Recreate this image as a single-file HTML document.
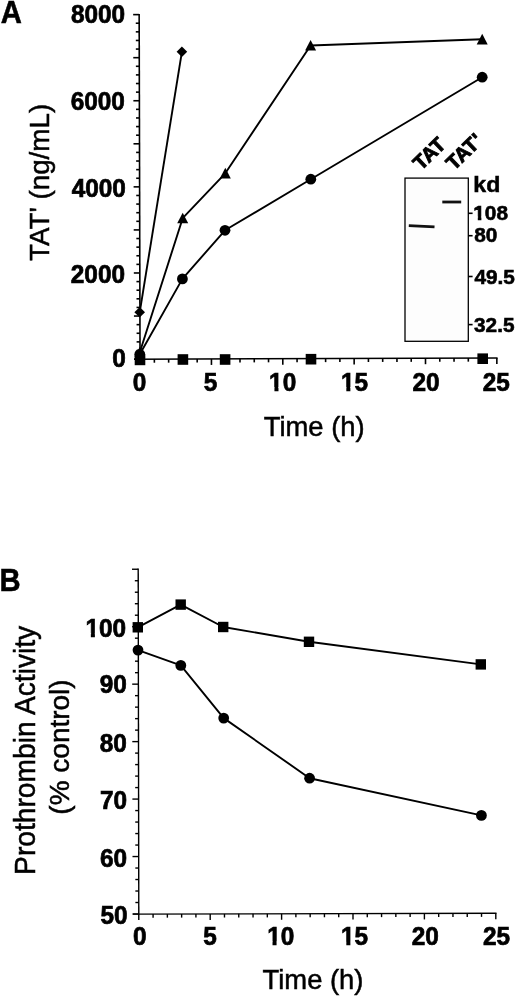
<!DOCTYPE html>
<html><head><meta charset="utf-8"><style>
html,body{margin:0;padding:0;background:#fff;}
svg{display:block;filter:grayscale(1);}
text{font-family:'Liberation Sans', sans-serif;fill:#000;}
.pl{font-size:30px;font-weight:bold;stroke:#000;stroke-width:0.5px;}
.tl{font-size:24.5px;font-weight:bold;stroke:#000;stroke-width:0.7px;}
.at{font-size:27.5px;stroke:#000;stroke-width:0.5px;}
.kd{font-size:22px;font-weight:bold;stroke:#000;stroke-width:0.5px;}
.gl{font-size:20.5px;font-weight:bold;stroke:#000;stroke-width:0.6px;}
.gt{font-size:20px;font-weight:bold;stroke:#000;stroke-width:1.0px;}
.axA line{stroke:#000;stroke-width:1.6;}
.axB line{stroke:#000;stroke-width:1.4;}
.dl{stroke:#000;stroke-width:1.9;fill:none;stroke-linejoin:round;}
.mk{fill:#000;stroke:none;}
</style></head><body>
<svg width="520" height="999" viewBox="0 0 520 999">
<g transform="translate(98.06,22.88) scale(0.9957,1.0325)"><text class="tl" text-anchor="middle">8000</text>
</g>
<g transform="translate(97.80,109.87) scale(0.9957,1.0325)"><text class="tl" text-anchor="middle">6000</text>
</g>
<g transform="translate(98.78,196.82) scale(0.9957,1.0325)"><text class="tl" text-anchor="middle">4000</text>
</g>
<g transform="translate(97.91,282.88) scale(0.9957,1.0325)"><text class="tl" text-anchor="middle">2000</text>
</g>
<g transform="translate(118.92,367.07) scale(0.9957,1.0325)"><text class="tl" text-anchor="middle">0</text>
</g>
<g transform="translate(139.53,391.04) scale(0.9957,1.0325)"><text class="tl" text-anchor="middle">0</text>
</g>
<g transform="translate(210.42,391.04) scale(0.9957,1.0325)"><text class="tl" text-anchor="middle">5</text>
</g>
<g transform="translate(282.66,390.58) scale(0.9957,1.0325)"><text class="tl" text-anchor="middle">10</text>
<rect x="-13.38" y="-3.40" width="5.12" height="4.90" fill="#fff"/>
<rect x="-4.19" y="-3.40" width="4.80" height="4.90" fill="#fff"/>
</g>
<g transform="translate(354.55,390.58) scale(0.9957,1.0325)"><text class="tl" text-anchor="middle">15</text>
<rect x="-13.38" y="-3.40" width="5.12" height="4.90" fill="#fff"/>
<rect x="-4.19" y="-3.40" width="4.80" height="4.90" fill="#fff"/>
</g>
<g transform="translate(426.08,390.66) scale(0.9957,1.0325)"><text class="tl" text-anchor="middle">20</text>
</g>
<g transform="translate(496.19,390.66) scale(0.9957,1.0325)"><text class="tl" text-anchor="middle">25</text>
</g>
<g transform="translate(105.85,636.60) scale(0.9957,1.0325)"><text class="tl" text-anchor="middle">100</text>
<rect x="-20.20" y="-3.40" width="5.12" height="4.90" fill="#fff"/>
<rect x="-11.00" y="-3.40" width="4.80" height="4.90" fill="#fff"/>
</g>
<g transform="translate(113.28,693.22) scale(0.9957,1.0325)"><text class="tl" text-anchor="middle">90</text>
</g>
<g transform="translate(113.28,751.70) scale(0.9957,1.0325)"><text class="tl" text-anchor="middle">80</text>
</g>
<g transform="translate(113.50,809.39) scale(0.9957,1.0325)"><text class="tl" text-anchor="middle">70</text>
</g>
<g transform="translate(113.50,866.66) scale(0.9957,1.0325)"><text class="tl" text-anchor="middle">60</text>
</g>
<g transform="translate(113.95,923.83) scale(0.9957,1.0325)"><text class="tl" text-anchor="middle">50</text>
</g>
<g transform="translate(139.80,945.26) scale(0.9957,1.0325)"><text class="tl" text-anchor="middle">0</text>
</g>
<g transform="translate(209.92,945.12) scale(0.9957,1.0325)"><text class="tl" text-anchor="middle">5</text>
</g>
<g transform="translate(280.74,944.98) scale(0.9957,1.0325)"><text class="tl" text-anchor="middle">10</text>
<rect x="-13.38" y="-3.40" width="5.12" height="4.90" fill="#fff"/>
<rect x="-4.19" y="-3.40" width="4.80" height="4.90" fill="#fff"/>
</g>
<g transform="translate(354.55,945.41) scale(0.9957,1.0325)"><text class="tl" text-anchor="middle">15</text>
<rect x="-13.38" y="-3.40" width="5.12" height="4.90" fill="#fff"/>
<rect x="-4.19" y="-3.40" width="4.80" height="4.90" fill="#fff"/>
</g>
<g transform="translate(425.19,944.51) scale(0.9957,1.0325)"><text class="tl" text-anchor="middle">20</text>
</g>
<g transform="translate(496.48,945.00) scale(0.9957,1.0325)"><text class="tl" text-anchor="middle">25</text>
</g>
<g transform="translate(486.81,192.39) scale(1.0534,1.0000)"><text class="kd" text-anchor="middle">kd</text>
</g>
<g transform="translate(490.66,219.59) scale(1.0147,1.0139)"><text class="gl" text-anchor="middle">108</text>
<rect x="-17.11" y="-2.99" width="4.43" height="4.49" fill="#fff"/>
<rect x="-9.14" y="-2.99" width="4.17" height="4.49" fill="#fff"/>
</g>
<g transform="translate(485.72,241.74) scale(1.0147,1.0139)"><text class="gl" text-anchor="middle">80</text>
</g>
<g transform="translate(494.69,283.86) scale(1.0147,1.0139)"><text class="gl" text-anchor="middle">49.5</text>
</g>
<g transform="translate(494.24,332.27) scale(1.0147,1.0139)"><text class="gl" text-anchor="middle">32.5</text>
</g>
<g transform="translate(11.41,22.53) scale(0.9751,1.0641)"><text class="pl" text-anchor="middle">A</text>
</g>
<g transform="translate(10.11,591.11) scale(0.9751,1.0641)"><text class="pl" text-anchor="middle">B</text>
</g>
<g class="axA">
<line x1="139.15" y1="13.92" x2="140.06" y2="365.10"/>
<line x1="134.04" y1="359.10" x2="140.04" y2="359.10"/>
<line x1="136.62" y1="350.49" x2="140.02" y2="350.49"/>
<line x1="136.60" y1="341.88" x2="140.00" y2="341.88"/>
<line x1="136.58" y1="333.26" x2="139.98" y2="333.26"/>
<line x1="136.56" y1="324.65" x2="139.96" y2="324.65"/>
<line x1="133.93" y1="316.04" x2="139.93" y2="316.04"/>
<line x1="136.51" y1="307.43" x2="139.91" y2="307.43"/>
<line x1="136.49" y1="298.82" x2="139.89" y2="298.82"/>
<line x1="136.47" y1="290.20" x2="139.87" y2="290.20"/>
<line x1="136.44" y1="281.59" x2="139.84" y2="281.59"/>
<line x1="133.82" y1="272.98" x2="139.82" y2="272.98"/>
<line x1="136.40" y1="264.37" x2="139.80" y2="264.37"/>
<line x1="136.38" y1="255.76" x2="139.78" y2="255.76"/>
<line x1="136.35" y1="247.14" x2="139.75" y2="247.14"/>
<line x1="136.33" y1="238.53" x2="139.73" y2="238.53"/>
<line x1="133.71" y1="229.92" x2="139.71" y2="229.92"/>
<line x1="136.29" y1="221.31" x2="139.69" y2="221.31"/>
<line x1="136.26" y1="212.70" x2="139.66" y2="212.70"/>
<line x1="136.24" y1="204.08" x2="139.64" y2="204.08"/>
<line x1="136.22" y1="195.47" x2="139.62" y2="195.47"/>
<line x1="133.60" y1="186.86" x2="139.60" y2="186.86"/>
<line x1="136.17" y1="178.25" x2="139.57" y2="178.25"/>
<line x1="136.15" y1="169.64" x2="139.55" y2="169.64"/>
<line x1="136.13" y1="161.02" x2="139.53" y2="161.02"/>
<line x1="136.11" y1="152.41" x2="139.51" y2="152.41"/>
<line x1="133.48" y1="143.80" x2="139.48" y2="143.80"/>
<line x1="136.06" y1="135.19" x2="139.46" y2="135.19"/>
<line x1="136.04" y1="126.58" x2="139.44" y2="126.58"/>
<line x1="136.02" y1="117.96" x2="139.42" y2="117.96"/>
<line x1="136.00" y1="109.35" x2="139.40" y2="109.35"/>
<line x1="133.37" y1="100.74" x2="139.37" y2="100.74"/>
<line x1="135.95" y1="92.13" x2="139.35" y2="92.13"/>
<line x1="135.93" y1="83.52" x2="139.33" y2="83.52"/>
<line x1="135.91" y1="74.90" x2="139.31" y2="74.90"/>
<line x1="135.88" y1="66.29" x2="139.28" y2="66.29"/>
<line x1="133.26" y1="57.68" x2="139.26" y2="57.68"/>
<line x1="135.84" y1="49.07" x2="139.24" y2="49.07"/>
<line x1="135.82" y1="40.46" x2="139.22" y2="40.46"/>
<line x1="135.79" y1="31.84" x2="139.19" y2="31.84"/>
<line x1="135.77" y1="23.23" x2="139.17" y2="23.23"/>
<line x1="133.15" y1="14.62" x2="139.15" y2="14.62"/>
<line x1="134.04" y1="359.19" x2="497.55" y2="357.95"/>
<line x1="154.37" y1="359.12" x2="154.37" y2="362.72"/>
<line x1="168.64" y1="359.07" x2="168.64" y2="362.67"/>
<line x1="182.91" y1="359.02" x2="182.91" y2="362.62"/>
<line x1="197.18" y1="358.97" x2="197.18" y2="362.57"/>
<line x1="211.45" y1="358.93" x2="211.45" y2="364.93"/>
<line x1="225.72" y1="358.88" x2="225.72" y2="362.48"/>
<line x1="239.99" y1="358.83" x2="239.99" y2="362.43"/>
<line x1="254.26" y1="358.78" x2="254.26" y2="362.38"/>
<line x1="268.53" y1="358.73" x2="268.53" y2="362.33"/>
<line x1="282.80" y1="358.68" x2="282.80" y2="364.68"/>
<line x1="297.07" y1="358.63" x2="297.07" y2="362.23"/>
<line x1="311.34" y1="358.59" x2="311.34" y2="362.19"/>
<line x1="325.61" y1="358.54" x2="325.61" y2="362.14"/>
<line x1="339.88" y1="358.49" x2="339.88" y2="362.09"/>
<line x1="354.15" y1="358.44" x2="354.15" y2="364.44"/>
<line x1="368.42" y1="358.39" x2="368.42" y2="361.99"/>
<line x1="382.69" y1="358.34" x2="382.69" y2="361.94"/>
<line x1="396.96" y1="358.29" x2="396.96" y2="361.89"/>
<line x1="411.23" y1="358.25" x2="411.23" y2="361.85"/>
<line x1="425.50" y1="358.20" x2="425.50" y2="364.20"/>
<line x1="439.77" y1="358.15" x2="439.77" y2="361.75"/>
<line x1="454.04" y1="358.10" x2="454.04" y2="361.70"/>
<line x1="468.31" y1="358.05" x2="468.31" y2="361.65"/>
<line x1="482.58" y1="358.00" x2="482.58" y2="361.60"/>
<line x1="496.85" y1="357.95" x2="496.85" y2="363.95"/>
</g>
<text x="314.2" y="435.8" class="at" text-anchor="middle" style="font-size:27.4px">Time (h)</text>
<text transform="translate(49.2,182.35) rotate(-90) scale(1,1.02)" class="at" text-anchor="middle" style="font-size:27.8px">TAT' (ng/mL)</text>
<polyline points="139.70,312.30 181.90,51.80" class="dl"/>
<polyline points="139.80,352.20 182.70,218.20 225.30,173.30 310.60,45.50 482.20,39.30" class="dl"/>
<polyline points="139.80,354.30 182.40,278.90 225.00,230.30 310.80,179.20 482.20,77.20" class="dl"/>
<rect x="134.70" y="354.60" width="10.6" height="10.6" class="mk"/>
<rect x="177.60" y="354.20" width="10.6" height="10.6" class="mk"/>
<rect x="219.80" y="354.20" width="10.6" height="10.6" class="mk"/>
<rect x="305.70" y="353.90" width="10.6" height="10.6" class="mk"/>
<rect x="477.40" y="353.40" width="10.6" height="10.6" class="mk"/>
<circle cx="139.80" cy="354.30" r="5.4" class="mk"/>
<circle cx="182.40" cy="278.90" r="5.4" class="mk"/>
<circle cx="225.00" cy="230.30" r="5.4" class="mk"/>
<circle cx="310.80" cy="179.20" r="5.4" class="mk"/>
<circle cx="482.20" cy="77.20" r="5.4" class="mk"/>
<path d="M139.80,346.70 L145.30,357.30 L134.30,357.30 Z" class="mk"/>
<path d="M182.70,212.70 L188.20,223.30 L177.20,223.30 Z" class="mk"/>
<path d="M225.30,167.80 L230.80,178.40 L219.80,178.40 Z" class="mk"/>
<path d="M310.60,40.00 L316.10,50.60 L305.10,50.60 Z" class="mk"/>
<path d="M482.20,33.80 L487.70,44.40 L476.70,44.40 Z" class="mk"/>
<path d="M139.70,307.00 L145.00,312.30 L139.70,317.60 L134.40,312.30 Z" class="mk"/>
<path d="M181.90,46.50 L187.20,51.80 L181.90,57.10 L176.60,51.80 Z" class="mk"/>
<rect x="405.0" y="178.1" width="63.3" height="163.2" fill="#fdfdfd" stroke="#000" stroke-width="1.3"/>
<path d="M408.8,225.6 L434.5,226.9" stroke="#111" stroke-width="2.6" fill="none"/>
<path d="M442.3,202 L461.2,202" stroke="#111" stroke-width="2.8" fill="none"/>
<g class="axA">
<line x1="468" y1="213.3" x2="472.6" y2="213.3"/>
<line x1="468" y1="235.7" x2="472.6" y2="235.7"/>
<line x1="468" y1="276.5" x2="472.6" y2="276.5"/>
<line x1="468" y1="324.6" x2="472.6" y2="324.6"/>
</g>
<text transform="translate(421,171) rotate(-44)" class="gt">TAT</text>
<text transform="translate(454,171) rotate(-44)" class="gt">TAT<tspan dx="0.9">'</tspan></text>
<g class="axB">
<line x1="138.20" y1="568.54" x2="138.80" y2="920.00"/>
<line x1="132.59" y1="914.00" x2="138.79" y2="914.00"/>
<line x1="135.37" y1="902.51" x2="138.77" y2="902.51"/>
<line x1="135.35" y1="891.02" x2="138.75" y2="891.02"/>
<line x1="135.33" y1="879.52" x2="138.73" y2="879.52"/>
<line x1="135.31" y1="868.03" x2="138.71" y2="868.03"/>
<line x1="132.49" y1="856.54" x2="138.69" y2="856.54"/>
<line x1="135.27" y1="845.05" x2="138.67" y2="845.05"/>
<line x1="135.25" y1="833.56" x2="138.65" y2="833.56"/>
<line x1="135.23" y1="822.06" x2="138.63" y2="822.06"/>
<line x1="135.21" y1="810.57" x2="138.61" y2="810.57"/>
<line x1="132.39" y1="799.08" x2="138.59" y2="799.08"/>
<line x1="135.17" y1="787.59" x2="138.57" y2="787.59"/>
<line x1="135.15" y1="776.10" x2="138.55" y2="776.10"/>
<line x1="135.13" y1="764.60" x2="138.53" y2="764.60"/>
<line x1="135.11" y1="753.11" x2="138.51" y2="753.11"/>
<line x1="132.29" y1="741.62" x2="138.49" y2="741.62"/>
<line x1="135.07" y1="730.13" x2="138.47" y2="730.13"/>
<line x1="135.05" y1="718.64" x2="138.45" y2="718.64"/>
<line x1="135.03" y1="707.14" x2="138.43" y2="707.14"/>
<line x1="135.02" y1="695.65" x2="138.42" y2="695.65"/>
<line x1="132.20" y1="684.16" x2="138.40" y2="684.16"/>
<line x1="134.98" y1="672.67" x2="138.38" y2="672.67"/>
<line x1="134.96" y1="661.18" x2="138.36" y2="661.18"/>
<line x1="134.94" y1="649.68" x2="138.34" y2="649.68"/>
<line x1="134.92" y1="638.19" x2="138.32" y2="638.19"/>
<line x1="132.10" y1="626.70" x2="138.30" y2="626.70"/>
<line x1="134.88" y1="615.21" x2="138.28" y2="615.21"/>
<line x1="134.86" y1="603.72" x2="138.26" y2="603.72"/>
<line x1="134.84" y1="592.22" x2="138.24" y2="592.22"/>
<line x1="134.82" y1="580.73" x2="138.22" y2="580.73"/>
<line x1="132.00" y1="569.24" x2="138.20" y2="569.24"/>
<line x1="132.79" y1="914.13" x2="496.50" y2="913.26"/>
<line x1="153.08" y1="914.08" x2="153.08" y2="917.68"/>
<line x1="167.36" y1="914.05" x2="167.36" y2="917.65"/>
<line x1="181.64" y1="914.01" x2="181.64" y2="917.61"/>
<line x1="195.92" y1="913.98" x2="195.92" y2="917.58"/>
<line x1="210.20" y1="913.94" x2="210.20" y2="919.94"/>
<line x1="224.48" y1="913.91" x2="224.48" y2="917.51"/>
<line x1="238.76" y1="913.87" x2="238.76" y2="917.47"/>
<line x1="253.04" y1="913.84" x2="253.04" y2="917.44"/>
<line x1="267.32" y1="913.81" x2="267.32" y2="917.41"/>
<line x1="281.60" y1="913.77" x2="281.60" y2="919.77"/>
<line x1="295.88" y1="913.74" x2="295.88" y2="917.34"/>
<line x1="310.16" y1="913.70" x2="310.16" y2="917.30"/>
<line x1="324.44" y1="913.67" x2="324.44" y2="917.27"/>
<line x1="338.72" y1="913.64" x2="338.72" y2="917.24"/>
<line x1="353.00" y1="913.60" x2="353.00" y2="919.60"/>
<line x1="367.28" y1="913.57" x2="367.28" y2="917.17"/>
<line x1="381.56" y1="913.53" x2="381.56" y2="917.13"/>
<line x1="395.84" y1="913.50" x2="395.84" y2="917.10"/>
<line x1="410.12" y1="913.46" x2="410.12" y2="917.06"/>
<line x1="424.40" y1="913.43" x2="424.40" y2="919.43"/>
<line x1="438.68" y1="913.40" x2="438.68" y2="917.00"/>
<line x1="452.96" y1="913.36" x2="452.96" y2="916.96"/>
<line x1="467.24" y1="913.33" x2="467.24" y2="916.93"/>
<line x1="481.52" y1="913.29" x2="481.52" y2="916.89"/>
<line x1="495.80" y1="913.26" x2="495.80" y2="919.26"/>
</g>
<text x="313" y="989.2" class="at" text-anchor="middle" style="font-size:27.4px">Time (h)</text>
<text transform="translate(35.1,750.35) rotate(-90) scale(1,1.02)" class="at" text-anchor="middle" style="font-size:28.2px">Prothrombin Activity</text>
<text transform="translate(68.5,747) rotate(-90) scale(1,1.02)" class="at" text-anchor="middle" style="font-size:28.0px">(% control)</text>
<polyline points="137.80,627.30 180.70,604.60 223.20,627.00 309.00,641.80 480.80,664.40" class="dl"/>
<polyline points="138.00,650.10 180.80,665.40 223.70,718.10 309.60,778.20 481.40,815.40" class="dl"/>
<rect x="132.60" y="622.10" width="10.4" height="10.4" class="mk"/>
<rect x="175.50" y="599.40" width="10.4" height="10.4" class="mk"/>
<rect x="218.00" y="621.80" width="10.4" height="10.4" class="mk"/>
<rect x="303.80" y="636.60" width="10.4" height="10.4" class="mk"/>
<rect x="475.60" y="659.20" width="10.4" height="10.4" class="mk"/>
<circle cx="138.00" cy="650.10" r="5.4" class="mk"/>
<circle cx="180.80" cy="665.40" r="5.4" class="mk"/>
<circle cx="223.70" cy="718.10" r="5.4" class="mk"/>
<circle cx="309.60" cy="778.20" r="5.4" class="mk"/>
<circle cx="481.40" cy="815.40" r="5.4" class="mk"/>
</svg>
</body></html>
